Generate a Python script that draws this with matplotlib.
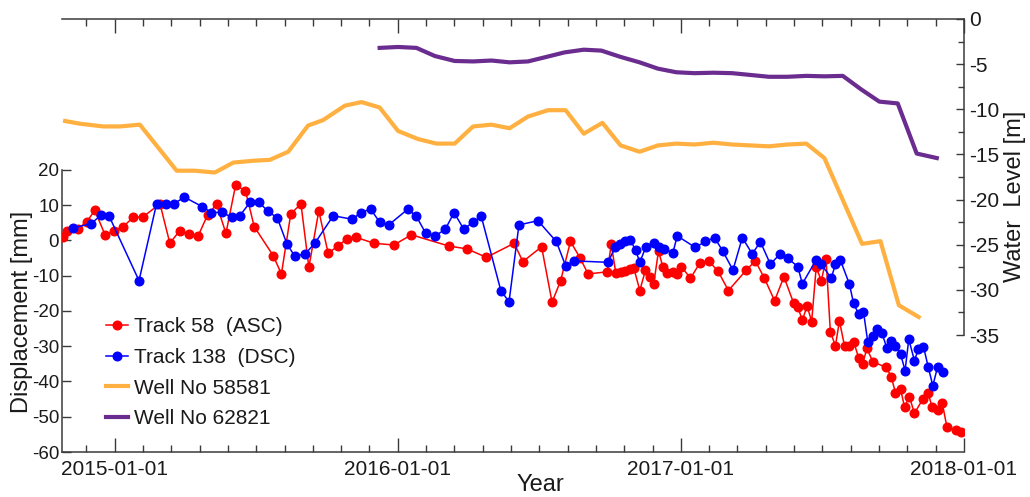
import matplotlib
matplotlib.use("Agg")
import matplotlib.pyplot as plt
import numpy as np

plt.rcParams['font.family'] = ['Liberation Sans', 'DejaVu Sans']
plt.rcParams['axes.unicode_minus'] = False

# ---------------- data (time in decimal years) ----------------
asc_t = [2014.817, 2014.831, 2014.869, 2014.901, 2014.930, 2014.966, 2014.999, 2015.030,
         2015.066, 2015.099, 2015.160, 2015.195, 2015.230, 2015.262, 2015.295, 2015.328,
         2015.360, 2015.393, 2015.427, 2015.462, 2015.493, 2015.560, 2015.589, 2015.622,
         2015.658, 2015.686, 2015.721, 2015.754, 2015.789, 2015.819, 2015.852, 2015.916,
         2015.986, 2016.048, 2016.181, 2016.245, 2016.313, 2016.411, 2016.442, 2016.508,
         2016.545, 2016.575, 2016.610, 2016.645, 2016.672, 2016.740, 2016.754, 2016.770,
         2016.787, 2016.801, 2016.819, 2016.834, 2016.855, 2016.875, 2016.890, 2016.904,
         2016.921, 2016.936, 2016.952, 2016.972, 2016.987, 2017.001, 2017.034, 2017.068,
         2017.098, 2017.131, 2017.168, 2017.231, 2017.263, 2017.295, 2017.331, 2017.364,
         2017.398, 2017.413, 2017.429, 2017.446, 2017.462, 2017.478, 2017.496, 2017.513,
         2017.528, 2017.546, 2017.560, 2017.578, 2017.593, 2017.611, 2017.628, 2017.642,
         2017.657, 2017.678, 2017.725, 2017.743, 2017.758, 2017.776, 2017.790, 2017.807,
         2017.825, 2017.854, 2017.874, 2017.887, 2017.907, 2017.923, 2017.940, 2017.972,
         2017.990]
asc_mm = [1.1, 2.8, 3.2, 5.3, 8.5, 1.6, 2.8, 3.9,
          6.6, 6.6, 10.4, -0.8, 2.8, 1.8, 1.3, 7.2,
          10.3, 2.0, 15.6, 14.1, 3.9, -4.3, -9.5, 7.5,
          10.4, -7.6, 8.4, -3.6, -1.6, 0.4, 0.9, -0.8,
          -1.3, 1.6, -1.6, -2.4, -4.8, -0.8, -6.0, -1.8,
          -17.5, -11.5, -0.3, -5.1, -9.5, -8.9, -1.1, -9.1,
          -8.9, -8.7, -8.1, -7.9, -14.2, -8.4, -10.4, -12.3,
          -3.0, -7.4, -9.1, -8.9, -9.6, -7.4, -10.7, -6.3,
          -5.8, -8.7, -14.2, -8.4, -5.8, -10.7, -17.1, -10.3,
          -17.7, -18.9, -22.6, -18.6, -23.0, -7.6, -11.4, -5.3,
          -25.9, -29.9, -22.8, -29.9, -29.9, -28.9, -33.3, -35.1,
          -30.6, -34.4, -36.0, -38.6, -43.2, -42.2, -47.2, -44.3,
          -49.0, -45.1, -43.4, -47.2, -48.1, -46.0, -53.0, -53.8,
          -54.2]

dsc_t = [2014.854, 2014.916, 2014.952, 2014.981, 2015.086, 2015.148, 2015.181, 2015.210,
         2015.246, 2015.309, 2015.342, 2015.378, 2015.413, 2015.442, 2015.478, 2015.510,
         2015.540, 2015.575, 2015.609, 2015.636, 2015.672, 2015.707, 2015.772, 2015.840,
         2015.869, 2015.904, 2015.936, 2015.968, 2016.036, 2016.066, 2016.099, 2016.133,
         2016.168, 2016.199, 2016.233, 2016.266, 2016.295, 2016.364, 2016.393, 2016.428,
         2016.495, 2016.560, 2016.593, 2016.622, 2016.742, 2016.769, 2016.786, 2016.801,
         2016.821, 2016.840, 2016.855, 2016.876, 2016.904, 2016.921, 2016.939, 2016.972,
         2016.987, 2017.051, 2017.086, 2017.119, 2017.148, 2017.184, 2017.217, 2017.252,
         2017.281, 2017.316, 2017.351, 2017.378, 2017.413, 2017.429, 2017.478, 2017.496,
         2017.531, 2017.546, 2017.563, 2017.595, 2017.610, 2017.628, 2017.645, 2017.660,
         2017.678, 2017.693, 2017.710, 2017.727, 2017.743, 2017.758, 2017.776, 2017.792,
         2017.805, 2017.825, 2017.839, 2017.857, 2017.874, 2017.890, 2017.907, 2017.925]
dsc_mm = [3.6, 4.7, 7.2, 6.8, -11.4, 10.4, 10.4, 10.4,
          12.3, 9.6, 7.9, 8.0, 6.6, 7.0, 10.8, 10.8,
          8.4, 6.3, -1.1, -4.4, -3.9, -0.8, 7.0, 6.0,
          7.9, 8.9, 5.2, 4.4, 8.9, 6.8, 2.0, 1.3,
          3.2, 7.9, 3.2, 5.2, 6.8, -14.2, -17.4, 4.4,
          5.6, -0.3, -7.2, -5.8, -6.2, -1.9, -1.0, -0.3,
          0.1, -2.7, -6.2, -1.9, -0.8, -1.9, -2.4, -3.5,
          1.3, -2.0, -0.3, 0.8, -3.0, -8.4, 0.8, -3.8,
          -0.4, -6.7, -3.8, -5.1, -7.4, -12.3, -5.5, -6.7,
          -10.7, -6.8, -5.5, -12.3, -17.8, -20.9, -20.2, -28.7,
          -27.0, -25.1, -26.2, -30.4, -28.4, -29.8, -32.2, -36.9,
          -28.0, -34.1, -30.8, -30.1, -36.0, -41.2, -35.8, -37.2]

well58581_t = [2014.825, 2014.878, 2014.960, 2015.019, 2015.089, 2015.219, 2015.283, 2015.354,
               2015.419, 2015.489, 2015.548, 2015.613, 2015.683, 2015.736, 2015.813, 2015.872,
               2015.936, 2016.001, 2016.072, 2016.137, 2016.201, 2016.266, 2016.331, 2016.395,
               2016.460, 2016.531, 2016.593, 2016.657, 2016.723, 2016.787, 2016.854, 2016.919,
               2016.984, 2017.048, 2017.115, 2017.181, 2017.246, 2017.311, 2017.376, 2017.443,
               2017.507, 2017.640, 2017.705, 2017.770, 2017.840]
well58581_m = [-11.3, -11.6, -11.9, -11.9, -11.7, -16.8, -16.8, -17.0,
               -15.9, -15.7, -15.6, -14.7, -11.8, -11.2, -9.6, -9.2,
               -9.8, -12.4, -13.3, -13.8, -13.8, -11.9, -11.7, -12.1,
               -10.8, -10.1, -10.1, -12.7, -11.5, -14.0, -14.7, -14.0,
               -13.8, -13.9, -13.7, -13.9, -14.0, -14.1, -13.9, -13.8,
               -15.4, -24.9, -24.6, -31.7, -33.0]

well62821_t = [2015.936, 2016.001, 2016.066, 2016.131, 2016.201, 2016.266, 2016.331, 2016.395,
               2016.460, 2016.525, 2016.589, 2016.657, 2016.719, 2016.787, 2016.854, 2016.919,
               2016.984, 2017.048, 2017.115, 2017.181, 2017.246, 2017.311, 2017.376, 2017.443,
               2017.507, 2017.572, 2017.637, 2017.701, 2017.766, 2017.833, 2017.904]
well62821_m = [-3.2, -3.1, -3.2, -4.1, -4.65, -4.7, -4.6, -4.8,
               -4.7, -4.2, -3.7, -3.4, -3.5, -4.2, -4.8, -5.5,
               -5.9, -6.0, -5.95, -6.0, -6.2, -6.4, -6.4, -6.3,
               -6.35, -6.3, -7.8, -9.15, -9.35, -14.9, -15.4]

xtick_years = [2015, 2016, 2017, 2018]
xtick_labels = ['2015-01-01', '2016-01-01', '2017-01-01', '2018-01-01']

# ---------------- figure ----------------
fig = plt.figure(figsize=(10.30, 4.97), dpi=100)
ax = fig.add_axes([0.0602, 0.0905, 0.8757, 0.8713])
ax2 = ax.twinx()

spine_c = '#3a3a3a'
text_c = '#1a1a1a'

l1, = ax.plot(asc_t, asc_mm, '-o', color='#ff0000', lw=1.1, ms=6.2,
              label='Track 58  (ASC)', zorder=3)
l2, = ax.plot(dsc_t, dsc_mm, '-o', color='#0000ff', lw=1.1, ms=6.2,
              label='Track 138  (DSC)', zorder=4)
l3, = ax2.plot(well58581_t, well58581_m, '-', color='#ffb040', lw=3.0,
               label='Well No 58581')
l4, = ax2.plot(well62821_t, well62821_m, '-', color='#6a2c8e', lw=3.0,
               label='Well No 62821')

ax.set_xlim(2014.814, 2018.0)
ax.set_ylim(-60, 62.8)
ax2.set_ylim(-47.95, 0)

# spines
for sp in ax.spines.values():
    sp.set_color(spine_c)
    sp.set_linewidth(1.1)
ax.spines['right'].set_visible(False)
ax.spines['left'].set_bounds(-60, 20)
for k in ['top', 'bottom', 'left']:
    ax2.spines[k].set_visible(False)
ax2.spines['right'].set_color(spine_c)
ax2.spines['right'].set_linewidth(1.1)
ax2.spines['right'].set_bounds(-35, 0)

# x ticks
ax.set_xticks(xtick_years)
ax.set_xticklabels(xtick_labels)
ax.set_xticks(np.arange(2014.9, 2018.0, 0.1), minor=True)
ax.xaxis.set_ticks_position('both')
ax.tick_params(axis='x', which='major', direction='in', length=10, width=1.0,
               color=spine_c, labelsize=15, labelcolor=text_c, pad=6)
ax.tick_params(axis='x', which='minor', direction='in', length=5, width=1.0,
               color=spine_c)

# left y ticks
ax.set_yticks(list(range(-60, 21, 10)))
ax.tick_params(axis='y', which='major', direction='in', length=6.5, width=1.0,
               color=spine_c, labelsize=13.5, labelcolor=text_c, pad=2)

# right y ticks
ax2.set_yticks(list(range(-35, 1, 5)))
ax2.set_yticks(list(np.arange(-32.5, 0, 5)), minor=True)
ax2.tick_params(axis='y', which='major', direction='in', length=6, width=1.0,
                color=spine_c, labelsize=15, labelcolor=text_c, pad=4)
ax2.tick_params(axis='y', which='minor', direction='in', length=4.5, width=1.0,
                color=spine_c)

# labels
ax.set_xlabel('Year', fontsize=17, color=text_c)
ax.xaxis.set_label_coords(0.53, -0.076)
ax.xaxis.label.set_va('center')
ax.set_ylabel('Displacement [mm]', fontsize=17, color=text_c)
ax.yaxis.set_label_coords(-0.0447, 0.324)
ax.yaxis.label.set_va('center')
ax2.set_ylabel('Water  Level [m]', fontsize=17, color=text_c)
ax2.yaxis.set_label_coords(1.0565, 0.591)
ax2.yaxis.label.set_va('center')

leg = ax2.legend(handles=[l1, l2, l3, l4], loc='upper left',
                 bbox_to_anchor=(0.0488, 0.311), frameon=False, fontsize=15,
                 handlelength=1.05, handletextpad=0.3, labelspacing=0.56,
                 borderpad=0, borderaxespad=0)
for t in leg.get_texts():
    t.set_color(text_c)

fig.savefig('out.png', dpi=100)
